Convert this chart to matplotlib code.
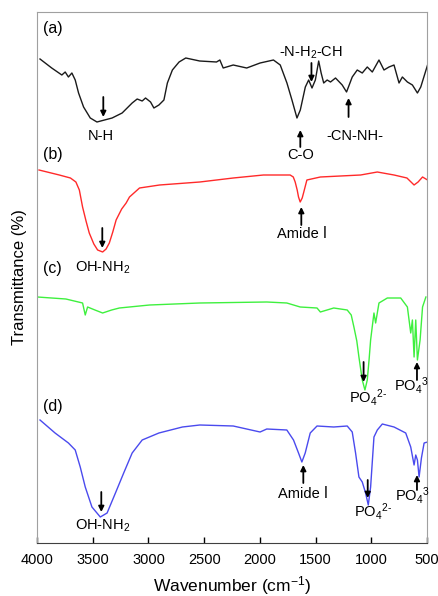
import matplotlib
matplotlib.use("Agg")
import matplotlib.pyplot as plt

plt.rcParams['font.family'] = ['Liberation Sans', 'DejaVu Sans']
plt.rcParams['mathtext.fontset'] = 'custom'
plt.rcParams['mathtext.rm'] = 'Liberation Sans'
plt.rcParams['mathtext.it'] = 'Liberation Sans'

# ---- data (wavenumber cm-1, transmittance offset units) ----
wn_a = [3973, 3868, 3777, 3747, 3718, 3687, 3657, 3627, 3582, 3522, 3462, 3326, 3236, 3146, 3101,
        3056, 3026, 2981, 2951, 2906, 2861, 2830, 2785, 2725, 2665, 2540, 2389, 2359, 2329, 2239,
        2118, 1998, 1878, 1817, 1757, 1712, 1667, 1637, 1592, 1562, 1532, 1502, 1472, 1450, 1427,
        1396, 1366, 1321, 1261, 1222, 1171, 1126, 1081, 1036, 991, 931, 886, 841, 796, 751, 721,
        676, 631, 586, 556, 495]
tr_a = [537, 528, 521, 524, 519, 523, 516, 503, 489, 478, 474, 478, 483, 493, 497,
        495, 498, 494, 488, 491, 496, 513, 526, 534, 538, 535, 534, 536, 528, 531,
        528, 533, 536, 531, 513, 496, 478, 486, 509, 516, 508, 516, 535, 523, 513,
        516, 514, 518, 511, 504, 519, 526, 523, 529, 524, 536, 526, 529, 531, 513, 519,
        514, 511, 503, 509, 531]

wn_b = [3982, 3800, 3700, 3651, 3620, 3591, 3560, 3531, 3490, 3456, 3411, 3380, 3351, 3320, 3290,
        3240, 3200, 3170, 3080, 2900, 2539, 2239, 1968, 1728, 1700, 1683, 1665, 1653, 1638, 1620,
        1608, 1578, 1457, 1096, 946, 796, 680, 616, 580, 540, 495]
tr_b = [426, 421, 418, 414, 406, 389, 375, 363, 352, 346, 344, 347, 353, 364, 376,
        387, 393, 399, 408, 411, 414, 418, 421, 421, 419, 414, 406, 399, 394, 398,
        403, 416, 419, 421, 424, 421, 418, 411, 414, 419, 416]

wn_c = [3997, 3741, 3591, 3567, 3546, 3480, 3411, 3330, 3261, 2990, 2539, 1938, 1758, 1638, 1487,
        1457, 1337, 1216, 1180, 1156, 1130, 1111, 1081, 1057, 1036, 1020, 1006, 976, 961, 931,
        856, 736, 676, 646, 631, 616, 601, 586, 562, 540, 510]
tr_c = [299, 297, 293, 281, 289, 286, 283, 286, 288, 291, 293, 294, 293, 289, 288,
        284, 288, 286, 281, 269, 255, 239, 216, 206, 216, 236, 256, 283, 273, 293,
        298, 298, 289, 263, 276, 239, 276, 236, 256, 289, 299]

wn_d = [3973, 3838, 3718, 3657, 3612, 3567, 3507, 3432, 3371, 3296, 3222, 3146, 3056, 2906, 2695,
        2539, 2239, 1998, 1938, 1758, 1698, 1653, 1623, 1593, 1548, 1487, 1337, 1216, 1171, 1141,
        1111, 1081, 1051, 1027, 1006, 976, 946, 901, 796, 691, 646, 616, 601, 586, 571, 550, 526,
        495]
tr_d = [176, 163, 153, 146, 129, 109, 89, 79, 83, 103, 123, 143, 156, 163, 169,
        171, 170, 164, 167, 166, 156, 143, 134, 143, 163, 170, 169, 170, 164, 143,
        119, 114, 103, 91, 109, 159, 166, 172, 169, 163, 149, 131, 141, 136, 119, 138, 153,
        154]

x_ticks = [4000, 3500, 3000, 2500, 2000, 1500, 1000, 500]

fig = plt.figure(figsize=(4.38, 5.96), dpi=100)
ax = fig.add_axes([37/438, 53/596, 390/438, 531/596])

ax.plot(wn_a, tr_a, color='#1a1a1a', lw=1.0)
ax.plot(wn_b, tr_b, color='#ff2a2a', lw=1.0)
ax.plot(wn_c, tr_c, color='#3ef03e', lw=1.0)
ax.plot(wn_d, tr_d, color='#4a4aee', lw=1.0)

ax.set_xlim(4000, 500)
ax.set_ylim(53, 584)
ax.set_xticks(x_ticks)
ax.set_xticklabels([str(t) for t in x_ticks], fontsize=10.5)
ax.set_yticks([])
ax.tick_params(axis='x', direction='in', length=4, width=1, pad=7)
for s in ['left', 'top', 'right']:
    ax.spines[s].set_color('#a0a0a0')
ax.spines['bottom'].set_color('#404040')

ax.set_xlabel(r'Wavenumber (cm$^{-1}$)', fontsize=12.5, labelpad=5)
ax.set_ylabel('Transmittance (%)', fontsize=12, labelpad=7)

fs = 10.5
ap = dict(arrowstyle='-|>', color='black', lw=1.3, mutation_scale=8, shrinkA=0, shrinkB=0)

def arrow(x, y0, y1):
    ax.annotate('', xy=(x, y1), xytext=(x, y0), arrowprops=ap)

# panel labels
for lab, y in [('(a)', 568), ('(b)', 441), ('(c)', 327), ('(d)', 189)]:
    ax.text(3945, y, lab, fontsize=11.5, ha='left', va='center')

po42 = 'PO$_4$$^{2\u2010}$'
po43 = 'PO$_4$$^3$'

# (a)
arrow(3405, 499, 479); ax.text(3423, 460, 'N-H', fontsize=fs, ha='center', va='center')
arrow(1637, 449, 466); ax.text(1637, 441, 'C-O', fontsize=fs, ha='center', va='center')
arrow(1537, 533, 514); ax.text(1537, 543, r'-N-H$_2$-CH', fontsize=fs, ha='center', va='center')
arrow(1204, 479, 498); ax.text(1150, 460, '-CN-NH-', fontsize=fs, ha='center', va='center')
# (b)
arrow(1628, 371, 389); ax.text(1619, 362, 'Amide Ⅰ', fontsize=fs, ha='center', va='center')
arrow(3414, 368, 348); ax.text(3414, 328, r'OH-NH$_2$', fontsize=fs, ha='center', va='center')
# (c)
arrow(1069, 234, 214); ax.text(1204, 198, po42, fontsize=fs, ha='left', va='center')
arrow(590, 216, 234); ax.text(798, 211, po43, fontsize=fs, ha='left', va='center')
# (d)
arrow(3423, 104, 84); ax.text(3414, 70, r'OH-NH$_2$', fontsize=fs, ha='center', va='center')
arrow(1610, 113, 131); ax.text(1610, 102, 'Amide Ⅰ', fontsize=fs, ha='center', va='center')
arrow(1032, 116, 98); ax.text(1159, 84, po42, fontsize=fs, ha='left', va='center')
arrow(590, 106, 121); ax.text(789, 100, po43, fontsize=fs, ha='left', va='center')

fig.savefig('out.png', dpi=100)
